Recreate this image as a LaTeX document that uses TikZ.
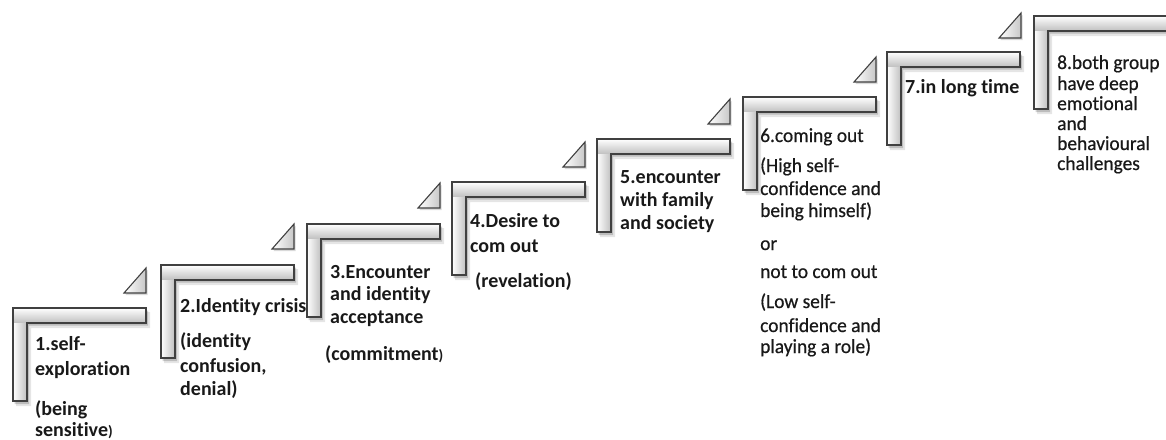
\documentclass[tikz,border=0pt]{standalone}
\usepackage{fontspec}
\setmainfont{Carlito}[Ligatures=NoCommon]
\newfontfamily\condfont{Carlito}[FakeStretch=0.97, FakeBold=0.6, Ligatures=NoCommon]
\begin{document}
\begin{tikzpicture}[x=1pt,y=-1pt,
  bt/.style={anchor=base west, inner sep=0pt, font=\fontsize{20}{22}\selectfont\bfseries, text=black!90},
  rt/.style={anchor=base west, inner sep=0pt, font=\fontsize{20}{22}\selectfont\condfont, text=black!90},
  edgeline/.style={draw=black!75, line width=1.1pt, line join=miter},
  shadowfill/.style={fill=black, opacity=#1},
  stair/.pic={
    \fill[shadowfill=0.10] (3,4) -- (137,4) -- (137,20) -- (18,20) -- (18,98) -- (3,98) -- cycle;
    \fill[shadowfill=0.18] (1.5,2.5) -- (135,2.5) -- (135,17.5) -- (16,17.5) -- (16,96) -- (1.5,96) -- cycle;
    \shade[top color=white, bottom color=black!25] (0,0) rectangle (133,15);
    \shade[left color=white, right color=black!25] (0,15) rectangle (14,93);
    \draw[edgeline] (0,0) -- (133,0) -- (133,15) -- (14,15) -- (14,93) -- (0,93) -- cycle;
  },
  tri/.pic={
    \fill[shadowfill=0.15] (1.5,2) -- (1.5,-23) -- (-20.5,2) -- cycle;
    \shade[left color=white, right color=black!22] (0,0) -- (0,-25) -- (-22,0) -- cycle;
    \draw[edgeline] (0,0) -- (0,-25) -- (-22,0) -- cycle;
  }]
\useasboundingbox (0,0) rectangle (1166,439);

% texts
\node[bt] (t1a) at (35,350) {1.self-};
\node[bt] (t1b) at (35,375) {exploration};
\node[bt] (t1c) at (35,415) {(being};
\node[bt] (t1d) at (35,436) {sensitive{\fontsize{15}{15}\selectfont)}};

\node[bt] (t2a) at (180,312) {2.Identity crisis};
\node[bt] (t2b) at (180,347) {(identity};
\node[bt] (t2c) at (180,372) {confusion,};
\node[bt] (t2d) at (180,395) {denial)};

\node[bt] (t3a) at (330,278) {3.Encounter};
\node[bt] (t3b) at (330,300) {and identity};
\node[bt] (t3c) at (330,323) {acceptance};
\node[bt] (t3d) at (325,360) {(commitment{\fontsize{15}{15}\selectfont)}};

\node[bt] (t4a) at (470,227) {4.Desire to};
\node[bt] (t4b) at (470,252) {com out};
\node[bt] (t4c) at (475,287) {(revelation)};

\node[bt] (t5a) at (620,183) {5.encounter};
\node[bt] (t5b) at (620,206) {with family};
\node[bt] (t5c) at (620,229) {and society};

\node[rt] (t6a) at (760,142) {6.coming out};
\node[rt] (t6b) at (760,172) {(High self-};
\node[rt] (t6c) at (760,195) {confidence and};
\node[rt] (t6d) at (760,217) {being himself)};
\node[rt] (t6e) at (760,250) {or};
\node[rt] (t6f) at (760,278) {not to com out};
\node[rt] (t6g) at (760,308) {(Low self-};
\node[rt] (t6h) at (760,332) {confidence and};
\node[rt] (t6i) at (760,353) {playing a role)};

\node[bt] (t7a) at (905,93) {7.in long time};

\node[rt] (t8a) at (1057,69) {8.both group};
\node[rt] (t8b) at (1057,90) {have deep};
\node[rt] (t8c) at (1057,110) {emotional};
\node[rt] (t8d) at (1057,130) {and};
\node[rt] (t8e) at (1057,150) {behavioural};
\node[rt] (t8f) at (1057,170) {challenges};

% steps
\pic at (13,308) {stair};
\pic at (161,265) {stair};
\pic at (307,224) {stair};
\pic at (452,182) {stair};
\pic at (597,139) {stair};
\pic at (743,97) {stair};
\pic at (887,52) {stair};
\pic at (1034,16) {stair};

% triangles
\pic at (146,293) {tri};
\pic at (294,249) {tri};
\pic at (440,208) {tri};
\pic at (585,167) {tri};
\pic at (730,124) {tri};
\pic at (876,82) {tri};
\pic at (1021,38) {tri};
\end{tikzpicture}
\end{document}
